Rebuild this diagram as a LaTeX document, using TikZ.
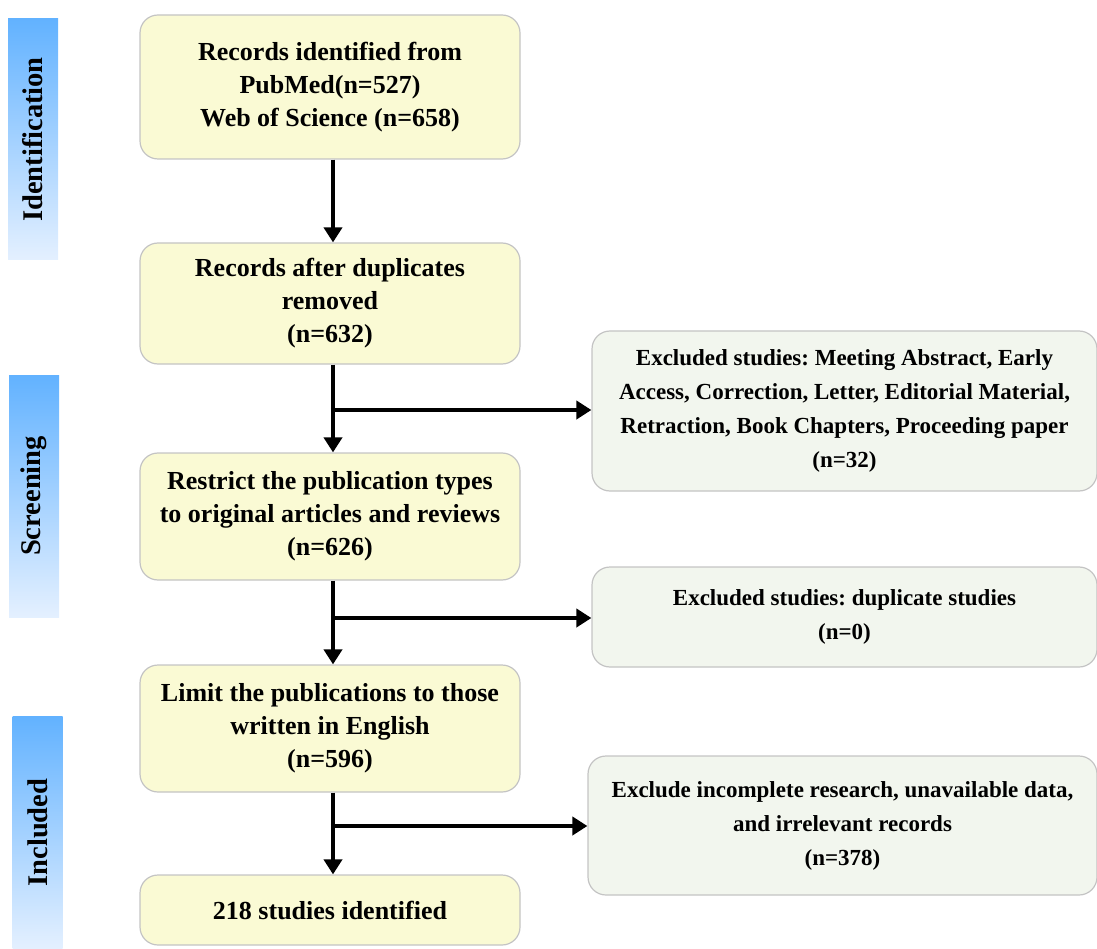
\documentclass[tikz,border=0pt]{standalone}
\usepackage{fontspec}
\setmainfont{Liberation Serif}
\usetikzlibrary{arrows.meta}
\frenchspacing

\definecolor{boxyellow}{HTML}{FAFAD4}
\definecolor{boxgreen}{HTML}{F2F6EE}
\definecolor{boxline}{HTML}{C4C4C4}
\definecolor{phasetop}{HTML}{62B2FF}
\definecolor{phasebot}{HTML}{E4F0FF}

\tikzset{
    stepbox/.style={draw=boxline, line width=1.2pt, fill=boxyellow, rounded corners=18pt,
        minimum width=380pt, align=center, font=\bfseries\fontsize{26}{33}\selectfont},
    excbox/.style={stepbox, fill=boxgreen, minimum width=505pt, font=\bfseries\fontsize{23}{34}\selectfont},
    phase/.style={top color=phasetop, bottom color=phasebot, minimum width=50pt,
        font=\bfseries\fontsize{28.5}{30}\selectfont},
    flow/.style={line width=4.5pt, -{Triangle[length=15pt,width=18pt]}},
}

\begin{document}
\begin{tikzpicture}[x=1pt, y=-1pt]
    \useasboundingbox (0,0) rectangle (1097,949);
    % phase bars
    \node[phase, minimum height=241pt] (idphase) at (33,139.5) {\rotatebox{90}{Identification}};
    \node[phase, minimum height=242pt] (scphase) at (34,496) {\rotatebox{90}{Screening}};
    \node[phase, minimum height=233pt] (inphase) at (37.5,832.5) {\rotatebox{90}{Included}};
    % main column
    \node[stepbox, minimum height=144pt] (ident) at (330,87) {Records identified from\\PubMed(n=527)\\Web of Science (n=658)};
    \node[stepbox, minimum height=121pt] (dedup) at (330,303.5) {Records after duplicates\\removed\\(n=632)};
    \node[stepbox, minimum height=127pt] (restrict) at (330,516.5) {Restrict the publication types\\to original articles and reviews\\(n=626)};
    \node[stepbox, minimum height=127pt] (english) at (330,728.5) {Limit the publications to those\\written in English\\(n=596)};
    \node[stepbox, minimum height=70pt] (final) at (330,910) {218 studies identified};
    % exclusions
    \node[excbox, minimum height=160pt] (excA) at (844.5,411) {Excluded studies: Meeting Abstract, Early\\Access, Correction, Letter, Editorial Material,\\Retraction, Book Chapters, Proceeding paper\\(n=32)};
    \node[excbox, minimum height=100pt] (excB) at (844.5,617) {Excluded studies: duplicate studies\\(n=0)};
    \node[excbox, minimum height=139pt, minimum width=509pt] (excC) at (842.5,825.5) {Exclude incomplete research, unavailable data,\\and irrelevant records\\(n=378)};
    % branch points
    \coordinate (brA) at (333,410);
    \coordinate (brB) at (333,618);
    \coordinate (brC) at (333,826);
    % arrows
    \draw[flow] (ident.south -| brA) -- (dedup.north -| brA);
    \draw[flow] (dedup.south -| brA) -- (restrict.north -| brA);
    \draw[flow] (restrict.south -| brA) -- (english.north -| brA);
    \draw[flow] (english.south -| brA) -- (final.north -| brA);
    \draw[flow] ([xshift=-2.25pt]brA) -- (excA.west |- brA);
    \draw[flow] ([xshift=-2.25pt]brB) -- (excB.west |- brB);
    \draw[flow] ([xshift=-2.25pt]brC) -- (excC.west |- brC);
\end{tikzpicture}
\end{document}
